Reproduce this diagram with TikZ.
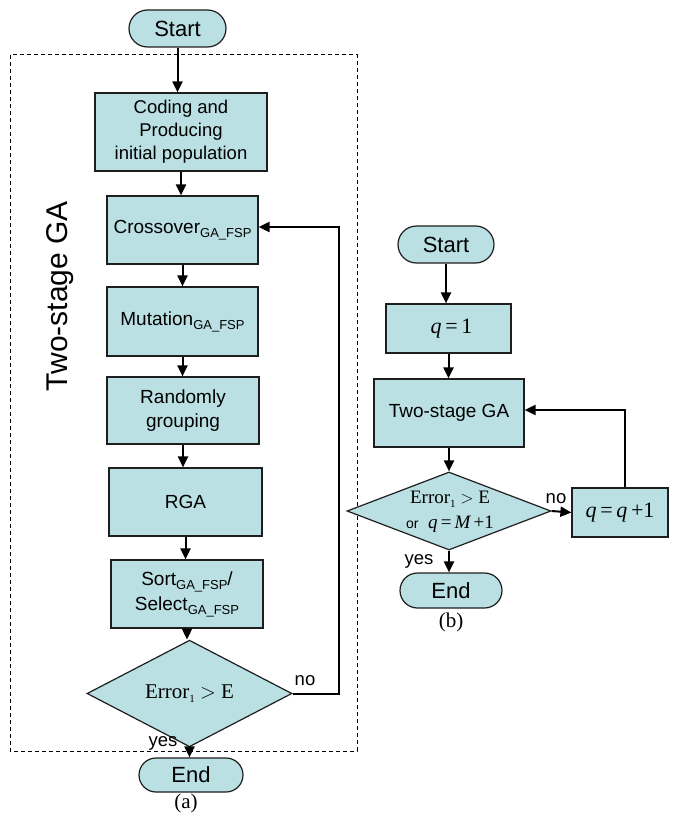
\documentclass[tikz,border=0pt]{standalone}
\usepackage{fontspec}
\setmainfont{Liberation Sans}
\newfontfamily\tnr{Liberation Serif}
\usetikzlibrary{arrows.meta,shapes.misc,shapes.geometric}
\definecolor{boxfill}{RGB}{186,224,227}
\definecolor{edgecol}{RGB}{30,30,30}
\newcommand\fs[2]{\fontsize{#1}{#2}\selectfont}
\newcommand\gsub{\raisebox{-4pt}{\fs{13}{13}GA\_FSP}}
\newcommand\esub{\raisebox{-4pt}{\fs{11}{11}1}}
\newcommand\qv{{\itshape q}}
\tikzset{
  base/.style={draw=edgecol, line width=1.2pt, fill=boxfill, inner sep=0pt, align=center},
  procbox/.style={base, rectangle, font=\fs{19}{23}},
  term/.style={base, rounded rectangle, font=\fs{22}{26}},
  decide/.style={base, diamond, font=\tnr\fs{21}{25}},
  arr/.style={draw=black, line width=2pt, -{Triangle[length=11pt,width=10pt]}},
  lbl/.style={font=\fs{18.5}{20}, inner sep=0pt},
  captext/.style={font=\tnr\fs{21}{21}, inner sep=0pt},
}
\begin{document}
\begin{tikzpicture}[x=1pt,y=-1pt]
\useasboundingbox (0,0) rectangle (672,816);
% dashed frame
\draw[line width=1pt, dash pattern=on 4pt off 3pt] (10,55) rectangle (357,751);
\node[rotate=90, font=\fs{30}{30}, inner sep=0pt] (title) at (60,296) {Two-stage GA};
% (a)
\node[term, minimum width=97pt, minimum height=37pt] (startA) at (177.5,28.5) {Start};
\node[procbox, minimum width=172pt, minimum height=78pt, font=\fs{18.5}{23}] (coding) at (181,132) {Coding and\\Producing\\initial population};
\node[procbox, minimum width=151pt, minimum height=68pt] (cross) at (182.5,230) {Crossover\gsub};
\node[procbox, minimum width=151pt, minimum height=69pt] (mut) at (182.5,321.5) {Mutation\gsub};
\node[procbox, minimum width=152pt, minimum height=67pt, font=\fs{19}{24}] (rand) at (183,410.5) {Randomly\\grouping};
\node[procbox, minimum width=153pt, minimum height=68pt] (rga) at (185.5,502) {RGA};
\node[procbox, minimum width=152pt, minimum height=68pt, font=\fs{19}{25}] (sort) at (187,594) {Sort\gsub/\\Select\gsub};
\node[decide, minimum width=205pt, minimum height=79pt] (decA) at (189.5,693.5) {Error\esub{} $>$ E};
\node[term, minimum width=104pt, minimum height=34pt] (endA) at (191,775) {End};
\node[captext] (capA) at (186,803) {(a)};
\draw[arr] (startA.south) -- (startA.south |- coding.north);
\draw[arr] (coding.south) -- (coding.south |- cross.north);
\draw[arr] (cross.south) -- (cross.south |- mut.north);
\draw[arr] (mut.south) -- (mut.south |- rand.north);
\draw[arr] (rand.south) -- (rand.south |- rga.north);
\draw[arr] (rga.south) -- (rga.south |- sort.north);
\draw[arr] (sort.south) -- (sort.south |- decA.north);
\draw[arr] (decA.south) -- (decA.south |- endA.north);
\draw[arr] (decA.east) -- ++(46,0) coordinate (cornA) |- ([yshift=3pt]cross.east);
\node[lbl] (noA) at (305,681) {no};
\node[lbl] (yesA) at (163,743) {yes};
% (b)
\node[term, minimum width=96pt, minimum height=37pt] (startB) at (446,244.5) {Start};
\node[procbox, minimum width=125pt, minimum height=49pt, font=\tnr\fs{22}{24}] (q1) at (448.5,328.5) {\hspace{6pt}\qv\,=\,1};
\node[procbox, minimum width=150pt, minimum height=68pt] (tsga) at (449,413) {Two-stage GA};
\node[decide, minimum width=204pt, minimum height=78pt] (decB) at (449,511) {};
\node[inner sep=0pt, align=center, font=\tnr\fs{19}{25}] (decBtext) at (450,512) {Error\esub{} $>$ E\\{\rmfamily\fs{14}{14}or}\ \ \qv\,=\,{\itshape M}\,+1};
\node[procbox, minimum width=96pt, minimum height=49pt, font=\tnr\fs{22}{24}] (qq) at (620,512.5) {\qv\,=\,\qv\,+1};
\node[term, minimum width=102pt, minimum height=35pt] (endB) at (451,590.5) {End};
\node[captext] (capB) at (451,622) {(b)};
\draw[arr] (startB.south) -- (startB.south |- q1.north);
\draw[arr] (q1.south) -- (q1.south |- tsga.north);
\draw[arr] (tsga.south) -- (tsga.south |- decB.north);
\draw[arr] (decB.south) -- (decB.south |- endB.north);
\draw[arr] (decB.east) -- (qq.west);
\draw[arr] ([xshift=5pt]qq.north) |- ([yshift=3pt]tsga.east);
\node[lbl] (noB) at (556,499) {no};
\node[lbl] (yesB) at (419,561) {yes};
\end{tikzpicture}
\end{document}
